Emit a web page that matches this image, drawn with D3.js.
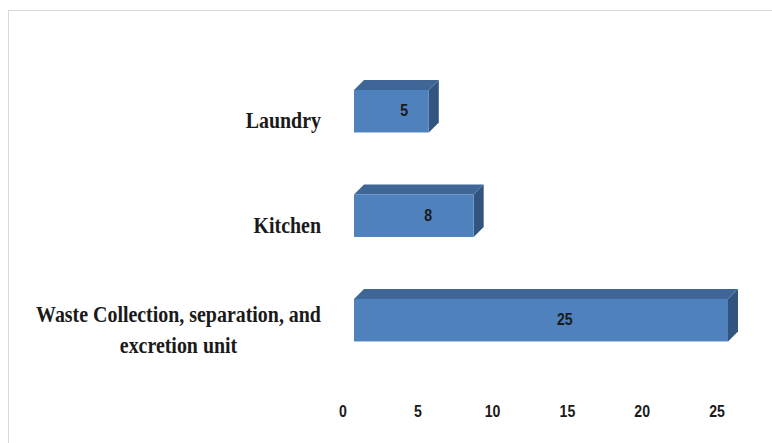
<!DOCTYPE html>
<html>
<head>
<meta charset="utf-8">
<script src="https://cdn.jsdelivr.net/npm/d3@7"></script>
<style>
  html, body { margin: 0; padding: 0; background: #fff; }
  svg { display: block; }
</style>
</head>
<body>
<svg id="chart" width="772" height="443"></svg>
<script>
const categories = ["Laundry", "Kitchen", "Waste Collection, separation, and excretion unit"];
const values = [5, 8, 25];
const tickValues = [0, 5, 10, 15, 20, 25];

const svg = d3.select("#chart");
const W = 772, H = 443;

// light frame (top + left)
svg.append("line").attr("x1", 8).attr("x2", W).attr("y1", 10.5).attr("y2", 10.5)
  .attr("stroke", "#d9d9d9").attr("stroke-width", 1);
svg.append("line").attr("x1", 8.5).attr("x2", 8.5).attr("y1", 10).attr("y2", H)
  .attr("stroke", "#d9d9d9").attr("stroke-width", 1);

const x = d3.scaleLinear().domain([0, 25]).range([354, 728]);
const y = d3.scaleBand().domain(categories).range([58.6, 372.8])
  .paddingInner(0.593).paddingOuter(0.3);

const depth = 10;
const sx = 0.83;

const data = categories.map((c, i) => ({ c, v: values[i] }));

const g = svg.append("g");
const bars = g.selectAll("g.bar").data(data).enter().append("g").attr("class", "bar");

// top face
bars.append("path")
  .attr("d", d => {
    const x0 = x(0), x1 = x(d.v), y0 = y(d.c);
    return `M${x0},${y0} L${x0 + depth},${y0 - depth} L${x1 + depth},${y0 - depth} L${x1},${y0} Z`;
  })
  .attr("fill", "#3E6798");
// side face
bars.append("path")
  .attr("d", d => {
    const x1 = x(d.v), y0 = y(d.c), y1 = y(d.c) + y.bandwidth();
    return `M${x1},${y0} L${x1 + depth},${y0 - depth} L${x1 + depth},${y1 - depth} L${x1},${y1} Z`;
  })
  .attr("fill", "#32557F");
// front face
bars.append("rect")
  .attr("x", x(0))
  .attr("y", d => y(d.c))
  .attr("width", d => x(d.v) - x(0))
  .attr("height", y.bandwidth())
  .attr("fill", "#4F81BD");

// value labels
bars.append("text")
  .attr("transform", d => `translate(${x(d.v / 2) + 10 + d.v * 0.55},${y(d.c) + y.bandwidth() / 2 + 5}) scale(${sx},1)`)
  .attr("text-anchor", "middle")
  .attr("font-family", "Liberation Sans, Arial, sans-serif")
  .attr("font-weight", "bold")
  .attr("font-size", 17)
  .attr("fill", "#1a1a1a")
  .text(d => d.v);

// x tick labels
const xAxis = svg.append("g").attr("class", "x-axis");
xAxis.selectAll("text").data(tickValues).enter().append("text")
  .attr("transform", d => `translate(${x(d) - 11},417) scale(${sx},1)`)
  .attr("text-anchor", "middle")
  .attr("font-family", "Liberation Sans, Arial, sans-serif")
  .attr("font-weight", "bold")
  .attr("font-size", 17)
  .attr("fill", "#1a1a1a")
  .text(d => d);

// category labels (wrapped, block right-aligned, lines centred)
const labelRight = 321;
const lineGap = 31;
const maxLineW = 300;
const yAxis = svg.append("g").attr("class", "y-axis");
const measure = svg.append("text")
  .attr("font-family", "Liberation Serif, 'Times New Roman', serif")
  .attr("font-weight", "bold").attr("font-size", 24).attr("visibility", "hidden");
function w(t) { measure.text(t); return measure.node().getComputedTextLength() * sx; }

categories.forEach(c => {
  const words = c.split(" ");
  const lines = [];
  let cur = "";
  words.forEach(wd => {
    const test = cur ? cur + " " + wd : wd;
    if (w(test) > maxLineW && cur) { lines.push(cur); cur = wd; }
    else cur = test;
  });
  if (cur) lines.push(cur);
  const blockW = d3.max(lines, l => w(l));
  const cx = labelRight - blockW / 2;
  const cy = y(c) + y.bandwidth() / 2 + 17;
  lines.forEach((l, i) => {
    yAxis.append("text")
      .attr("transform", `translate(${cx},${cy + (i - (lines.length - 1) / 2) * lineGap}) scale(${sx},1)`)
      .attr("text-anchor", "middle")
      .attr("font-family", "Liberation Serif, 'Times New Roman', serif")
      .attr("font-weight", "bold")
      .attr("font-size", 24)
      .attr("fill", "#1a1a1a")
      .text(l);
  });
});
measure.remove();
</script>
</body>
</html>
